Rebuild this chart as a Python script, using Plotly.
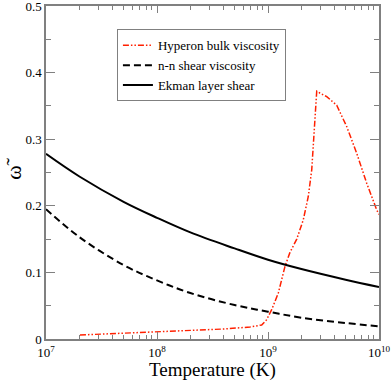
import plotly.graph_objects as go

# Ekman layer shear (solid)
ekman_T = [1e7, 2e7, 5e7, 1e8, 2e8, 5e8, 1e9, 2e9, 5e9, 1e10]
ekman_w = [0.278, 0.244, 0.206, 0.182, 0.160, 0.136, 0.119, 0.105, 0.089, 0.078]

# n-n shear viscosity (dashed)
nn_T = [1e7, 2e7, 5e7, 1e8, 2e8, 5e8, 1e9, 2e9, 5e9, 1e10]
nn_w = [0.195, 0.153, 0.111, 0.088, 0.069, 0.051, 0.041, 0.032, 0.024, 0.019]

# Hyperon bulk viscosity (dash-dot-dot, red)
hyp_logT = [7.306, 7.6, 8.0, 8.358, 8.6, 8.838, 8.943, 8.988, 9.033, 9.093, 9.153,
            9.198, 9.259, 9.318, 9.363, 9.394, 9.423, 9.439, 9.48, 9.529, 9.619,
            9.709, 9.799, 9.889, 9.979, 10.0]
hyp_w = [0.006, 0.008, 0.010, 0.0125, 0.015, 0.018, 0.021, 0.029, 0.044, 0.069, 0.109,
         0.130, 0.150, 0.179, 0.214, 0.254, 0.324, 0.372, 0.368, 0.364, 0.351,
         0.319, 0.279, 0.234, 0.194, 0.187]
hyp_T = [10 ** v for v in hyp_logT]

x_tickvals = [1e7, 1e8, 1e9, 1e10]
x_ticktext = ["10<sup>7</sup>", "10<sup>8</sup>", "10<sup>9</sup>", "10<sup>10</sup>"]
y_tickvals = [0, 0.1, 0.2, 0.3, 0.4, 0.5]
y_ticktext = ["0", "0.1", "0.2", "0.3", "0.4", "0.5"]

serif = "'Liberation Serif', 'DejaVu Serif', serif"

fig = go.Figure()
fig.add_trace(go.Scatter(x=hyp_T, y=hyp_w, mode="lines", name="Hyperon bulk viscosity",
                         line=dict(color="#ff2000", width=1.5, dash="6px,2px,1.5px,2px,1.5px,2px")))
fig.add_trace(go.Scatter(x=nn_T, y=nn_w, mode="lines", name="n-n shear viscosity",
                         line=dict(color="black", width=2, dash="7px,4px"), line_shape="spline"))
fig.add_trace(go.Scatter(x=ekman_T, y=ekman_w, mode="lines", name="Ekman layer shear",
                         line=dict(color="black", width=2), line_shape="spline"))

axis_common = dict(showgrid=False, zeroline=False, showline=True, linecolor="#808080",
                   linewidth=1.5, mirror="allticks", ticks="inside", tickcolor="#808080",
                   automargin=False, ticklabeloverflow="allow",
                   tickfont=dict(family=serif, size=13, color="black"))

fig.update_xaxes(type="log", range=[7, 10], tickvals=x_tickvals, ticktext=x_ticktext,
                 ticklen=7, ticklabelstandoff=1,
                 minor=dict(ticks="inside", ticklen=4, tickcolor="#808080", dtick="D1"),
                 **axis_common)
fig.update_yaxes(range=[0, 0.5], tickvals=y_tickvals, ticktext=y_ticktext, ticklen=9,
                 minor=dict(ticks="inside", ticklen=5, tickcolor="#808080", dtick=0.05, tick0=0),
                 **axis_common)

fig.add_annotation(text="Temperature (K)", xref="paper", yref="paper", x=0.5, y=-0.094,
                   xanchor="center", yanchor="middle", showarrow=False,
                   font=dict(family=serif, size=19, color="black"))
fig.add_annotation(text="ω̃", xref="paper", yref="paper", x=-0.1, y=0.51,
                   xanchor="center", yanchor="middle", showarrow=False, textangle=-90,
                   font=dict(family=serif, size=22, color="black"))

fig.update_layout(
    width=392, height=382,
    margin=dict(l=46, r=13, t=6, b=43),
    paper_bgcolor="white", plot_bgcolor="white",
    showlegend=True,
    font=dict(family=serif),
    legend=dict(x=0.213, y=0.93, xanchor="left", yanchor="top",
                bgcolor="white", bordercolor="#808080", borderwidth=1,
                font=dict(family=serif, size=13, color="black"),
                tracegroupgap=0, itemwidth=30),
)

fig.write_html("out.html", config={"displayModeBar": False},
               post_script="document.body.style.margin='0';")
